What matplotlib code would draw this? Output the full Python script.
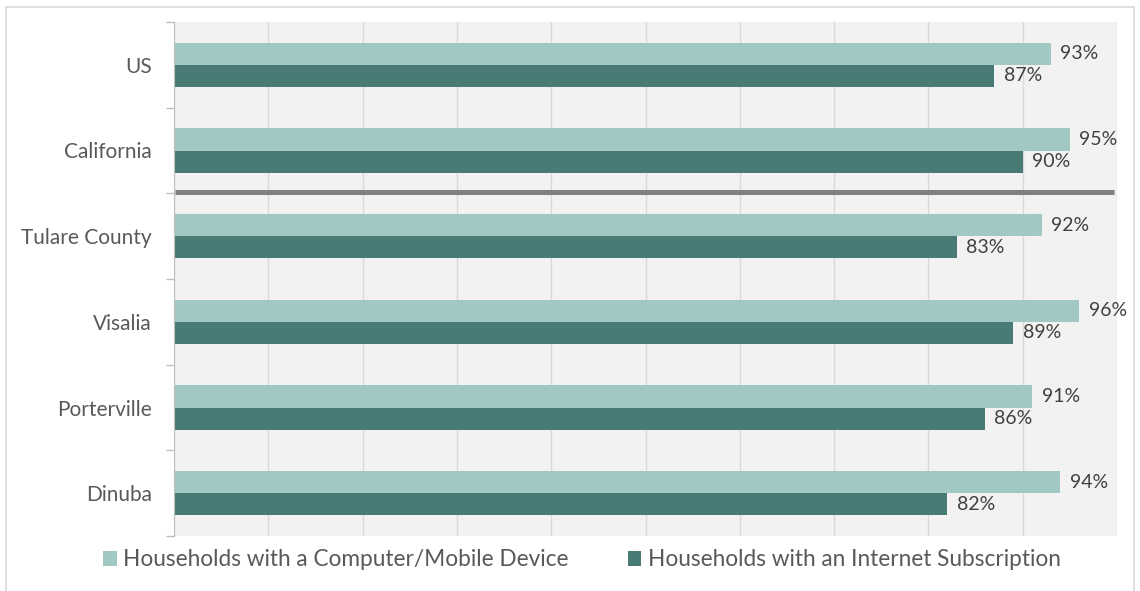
import matplotlib.pyplot as plt
from matplotlib.patches import Rectangle
import numpy as np

plt.rcParams['font.family'] = ['Lato', 'DejaVu Sans']

places = ['US', 'California', 'Tulare County', 'Visalia', 'Porterville', 'Dinuba']
device = [93, 95, 92, 96, 91, 94]
internet = [87, 90, 83, 89, 86, 82]
labels = ['Households with a Computer/Mobile Device',
          'Households with an Internet Subscription']

light = '#a2c8c4'
dark = '#487a76'

fig = plt.figure(figsize=(11.4, 5.91), dpi=100)
ax = fig.add_axes([174/1140, 1 - 536/591, (1117 - 174)/1140, (536 - 22)/591])
ax.set_facecolor('#f2f2f2')

# light border round the whole figure
fig.patches.append(Rectangle((6/1140, -0.05), 1128/1140, 1 - 7/591 + 0.05,
                             transform=fig.transFigure, fill=False,
                             edgecolor='#d9d9d9', linewidth=1.2))

y = np.arange(len(places))
h = 0.26
b1 = ax.barh(y - h/2, device, height=h, color=light, label=labels[0])
b2 = ax.barh(y + h/2, internet, height=h, color=dark, label=labels[1])

for bars, vals in ((b1, device), (b2, internet)):
    for bar, v in zip(bars, vals):
        ax.text(v + 1.0, bar.get_y() + bar.get_height()/2, f'{v}%',
                va='center', ha='left', fontsize=14, color='#404040')

ax.set_xlim(0, 100)
ax.set_ylim(len(places) - 0.5, -0.5)
ax.set_xticks(np.arange(0, 101, 10))
ax.tick_params(axis='x', length=0, labelbottom=False)
ax.grid(axis='x', color='#d9d9d9', linewidth=1)
ax.set_axisbelow(True)

ax.set_yticks(y)
ax.set_yticklabels(places, fontsize=15, color='#595959')
ax.set_yticks(np.arange(-0.5, len(places)), minor=True)
ax.tick_params(axis='y', which='major', length=0, pad=16)
ax.tick_params(axis='y', which='minor', length=6, color='#bfbfbf', width=1)

for s in ('top', 'right', 'bottom'):
    ax.spines[s].set_visible(False)
ax.spines['left'].set_color('#bfbfbf')

# separator between state-level and county-level rows
ax.hlines(1.48, 0.1, 99.7, color='#808080', linewidth=3.6)

fig.legend(handles=[b1, b2], labels=labels, loc='center',
           bbox_to_anchor=(582/1140, 1 - 560/591), ncol=2, frameon=False,
           fontsize=16.3, handlelength=0.6, handleheight=0.6,
           handletextpad=0.3, columnspacing=2.6, labelcolor='#595959')

fig.savefig('out.png', dpi=100)
